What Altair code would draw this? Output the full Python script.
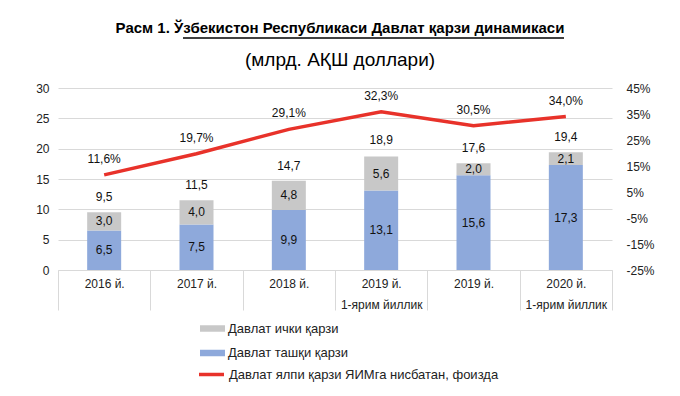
import altair as alt
import pandas as pd

categories = ["2016 й.", "2017 й.", "2018 й.", "2019 й.|1-ярим йиллик", "2019 й.", "2020 й.|1-ярим йиллик"]
external = [6.5, 7.5, 9.9, 13.1, 15.6, 17.3]
internal = [3.0, 4.0, 4.8, 5.6, 2.0, 2.1]
totals = [9.5, 11.5, 14.7, 18.9, 17.6, 19.4]
# plotted line positions as drawn in the picture (the 2019 H1 point sits above its 32,3% label value)
ratio = [11.6, 19.7, 29.1, 35.9, 30.5, 34.0]
ratio_labels = ["11,6%", "19,7%", "29,1%", "32,3%", "30,5%", "34,0%"]
series = ["Давлат ички қарзи", "Давлат ташқи қарзи", "Давлат ялпи қарзи ЯИМга нисбатан, фоизда"]
colors = ["#C8C8C8", "#8EA9DB", "#E8322A"]
title_text = "Расм 1. Ўзбекистон Республикаси Давлат қарзи динамикаси"
subtitle_text = "(млрд. АҚШ доллари)"

FONT = "Liberation Sans"

def fmt(v):
    return f"{v:.1f}".replace(".", ",")

rows = []
for c, e, i in zip(categories, external, internal):
    rows.append({"cat": c, "series": series[1], "start": 0, "end": e, "mid": e / 2, "lab": fmt(e)})
    rows.append({"cat": c, "series": series[0], "start": e, "end": e + i, "mid": e + i / 2, "lab": fmt(i)})
bar_df = pd.DataFrame(rows)
tot_df = pd.DataFrame({"cat": categories, "total": totals, "lab": [fmt(t) for t in totals]})
line_df = pd.DataFrame({"cat": categories, "ratio": ratio, "series": series[2],
                        "lab": ratio_labels})

x_enc = alt.X("cat:N", sort=categories, title=None,
              scale=alt.Scale(paddingInner=0, paddingOuter=0),
              axis=alt.Axis(labelAngle=0, labelExpr="split(datum.label, '|')",
                            labelFontSize=12, labelFont=FONT, labelColor="#222",
                            labelLineHeight=21, tickBand="extent", tickSize=40,
                            tickColor="#D9D9D9", domainColor="#D9D9D9",
                            labelPadding=-32, labelBaseline="top", grid=False))

left_scale = alt.Scale(domain=[0, 30], nice=False)
right_scale = alt.Scale(domain=[-25, 45], nice=False)
left_axis = alt.Axis(values=[0, 5, 10, 15, 20, 25, 30], grid=True, gridColor="#D9D9D9",
                     domain=False, ticks=False, labelPadding=9, labelFontSize=12,
                     labelFont=FONT, labelColor="#222", labelOverlap=False)
right_axis = alt.Axis(orient="right", values=[-25, -15, -5, 5, 15, 25, 35, 45],
                      labelExpr="datum.value + '%'", grid=False, domain=False, ticks=False,
                      labelPadding=14, labelFontSize=12, labelFont=FONT, labelColor="#222",
                      labelOverlap=False)

bar_legend = alt.Legend(title=None, orient="none", legendX=142, legendY=228, direction="vertical",
                        symbolType="M-1,-0.26H1V0.26H-1Z", symbolSize=625, symbolStrokeWidth=0,
                        labelFont=FONT, labelFontSize=13, labelColor="#222", labelOffset=3,
                        rowPadding=4.5, labelLimit=0)
line_legend = alt.Legend(title=None, orient="none", legendX=139, legendY=272, direction="vertical",
                         symbolType="stroke", symbolSize=625, symbolStrokeWidth=3.5,
                         labelFont=FONT, labelFontSize=13, labelColor="#222", labelOffset=3,
                         labelLimit=0)

bars = alt.Chart(bar_df).mark_bar(size=34).encode(
    x=x_enc,
    y=alt.Y("start:Q", scale=left_scale, title=None, axis=left_axis),
    y2="end:Q",
    color=alt.Color("series:N", scale=alt.Scale(domain=series[:2], range=colors[:2]),
                    legend=bar_legend),
)
seg_text = alt.Chart(bar_df).mark_text(font=FONT, fontSize=12, color="#111").encode(
    x=alt.X("cat:N", sort=categories),
    y=alt.Y("mid:Q", scale=left_scale, title=None, axis=left_axis),
    text="lab:N",
)
tot_text = alt.Chart(tot_df).mark_text(font=FONT, fontSize=12, color="#111", dy=-15).encode(
    x=alt.X("cat:N", sort=categories),
    y=alt.Y("total:Q", scale=left_scale, title=None, axis=left_axis),
    text="lab:N",
)
head_df = pd.DataFrame({"t": [title_text], "s": [subtitle_text]})
title_mark = alt.Chart(head_df).mark_text(font=FONT, fontSize=15, fontWeight="bold",
                                          color="#000").encode(
    x=alt.value(282), y=alt.value(-60), text="t:N")
subtitle_mark = alt.Chart(head_df).mark_text(font=FONT, fontSize=19, color="#000").encode(
    x=alt.value(282), y=alt.value(-28), text="s:N")
underline = alt.Chart(head_df).mark_rule(color="#000", strokeWidth=1.3).encode(
    x=alt.value(125), x2=alt.value(506), y=alt.value(-50))

left = alt.layer(bars, seg_text, tot_text, title_mark, subtitle_mark, underline)

line = alt.Chart(line_df).mark_line(strokeWidth=3.5).encode(
    x=alt.X("cat:N", sort=categories),
    y=alt.Y("ratio:Q", scale=right_scale, title=None, axis=right_axis),
    color=alt.Color("series:N", scale=alt.Scale(domain=series[2:], range=colors[2:]),
                    legend=line_legend),
)
pct_text = alt.Chart(line_df).mark_text(font=FONT, fontSize=12, color="#111", dy=-16).encode(
    x=alt.X("cat:N", sort=categories),
    y=alt.Y("ratio:Q", scale=right_scale, title=None, axis=right_axis),
    text="lab:N",
)
right = alt.layer(line, pct_text)

chart = alt.layer(left, right).resolve_scale(y="independent", color="independent").properties(
    width=554, height=182,
    padding={"left": 50, "top": 80, "right": 60, "bottom": 120},
    autosize=alt.AutoSizeParams(type="none"),
).configure_view(stroke=None)

chart.save("out.html", embed_options={"renderer": "svg", "actions": False})
